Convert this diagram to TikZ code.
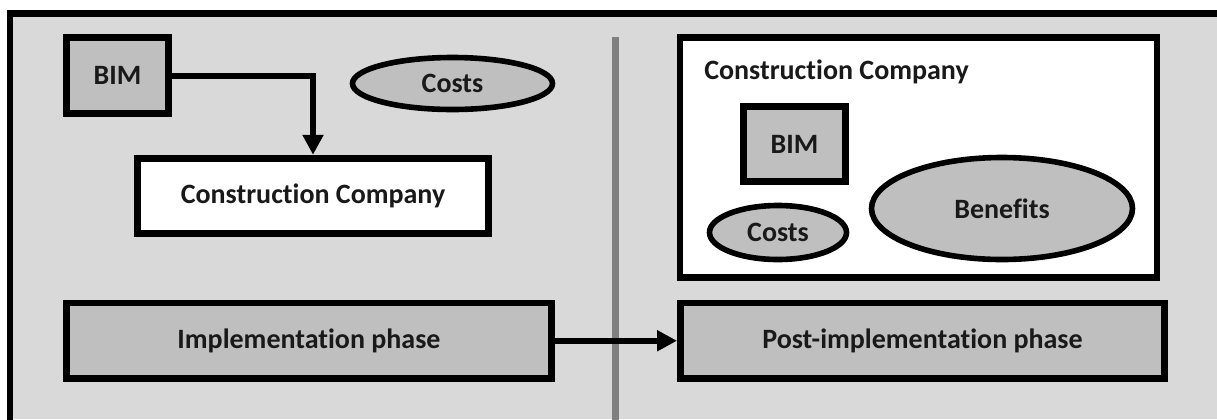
\documentclass[tikz,border=0pt]{standalone}
\usepackage{fontspec}
\setmainfont{Carlito}[Ligatures=NoCommon]
\usetikzlibrary{arrows.meta,shapes.geometric}
\definecolor{bgray}{HTML}{D9D9D9}
\definecolor{fgray}{HTML}{BFBFBF}
\definecolor{dgray}{HTML}{808080}
\tikzset{
  lbl/.style={font=\fontsize{21}{24}\selectfont\bfseries, text=black!90},
  boxg/.style={draw=black, line width=5.2pt, fill=fgray, rectangle, inner sep=0pt, lbl},
  boxw/.style={draw=black, line width=5.2pt, fill=white, rectangle, inner sep=0pt, lbl},
  ellg/.style={draw=black, line width=4.2pt, fill=fgray, ellipse, inner sep=0pt, lbl},
  conn/.style={line width=4.5pt, -{Triangle[length=15pt,width=15pt]}}
}
\begin{document}
\begin{tikzpicture}[x=0.75pt,y=-0.75pt]
\useasboundingbox (0,0) rectangle (1217,419);
% background and frame
\fill[bgray] (10,13.5) rectangle (1217,419);
\draw[line width=4.8pt] (1220,13.5) -- (10,13.5) -- (10,425);
% divider
\draw[dgray, line width=5pt] (615.5,37) -- (615.5,425);
% left part
\node[boxg, minimum width=102*0.75pt, minimum height=76*0.75pt] (bimL) at (117.5,75.5) {BIM};
\node[ellg, minimum width=200*0.75pt, minimum height=52*0.75pt] (costsL) at (452.5,83.5) {Costs};
\node[boxw, minimum width=351*0.75pt, minimum height=75.5*0.75pt] (ccL) at (313,196) {Construction Company};
\node[boxg, minimum width=485*0.75pt, minimum height=75.5*0.75pt] (impl) at (309,340.75) {Implementation phase};
% right part
\node[boxw, minimum width=477*0.75pt, minimum height=240*0.75pt] (ccR) at (918.5,157.5) {};
\node[lbl, anchor=base west, inner sep=0pt] (ccRlabel) at (704,79) {Construction Company};
\node[boxg, minimum width=102*0.75pt, minimum height=75*0.75pt] (bimR) at (794.5,144) {BIM};
\node[ellg, minimum width=137*0.75pt, minimum height=54*0.75pt] (costsR) at (778,232.5) {Costs};
\node[ellg, minimum width=261*0.75pt, minimum height=102*0.75pt] (benefits) at (1002,208.5) {Benefits};
\node[boxg, minimum width=484*0.75pt, minimum height=75.5*0.75pt] (post) at (922.5,340.75) {Post-implementation phase};
% connectors
\draw[conn] (bimL.east) -| (ccL.north);
\draw[conn] (impl.east) -- (post.west);
\end{tikzpicture}
\end{document}
